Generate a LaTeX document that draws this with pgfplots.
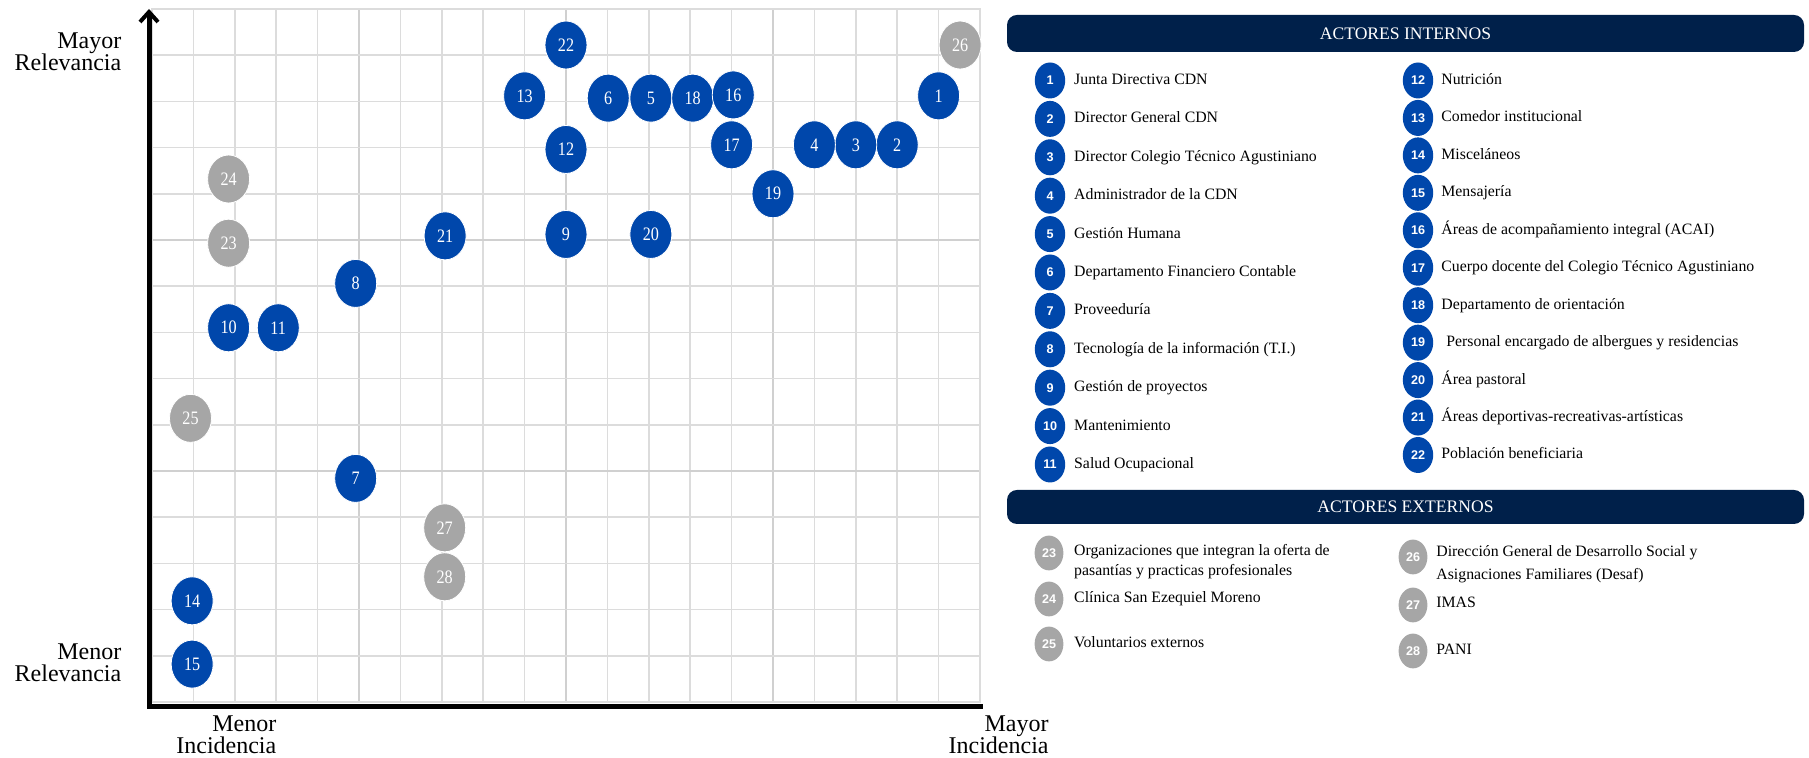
\documentclass[border=0pt]{standalone}
\usepackage{pgfplots}
\pgfplotsset{compat=1.18}
\usepackage{pgfplotstable}
\usetikzlibrary{arrows.meta}
\usepackage{fontspec}
\setmainfont{Liberation Serif}
\newfontfamily\condserif[FakeStretch=0.85]{Liberation Serif}
\newfontfamily\numsans{Liberation Sans}

\definecolor{bub}{RGB}{0,71,171}
\definecolor{bubgray}{RGB}{166,166,166}
\definecolor{navy}{RGB}{0,32,74}
\definecolor{gridminor}{RGB}{220,220,220}
\definecolor{gridmajor}{RGB}{208,208,208}

\pgfdeclareplotmark{bubble}{%
  \pgfpathellipse{\pgfpointorigin}{\pgfqpoint{10.5pt}{0pt}}{\pgfqpoint{0pt}{12pt}}%
  \pgfusepathqfillstroke}

\pgfplotstableread{
x y label
19.00 13.12 1
18.00 12.06 2
17.00 12.06 3
16.00 12.06 4
12.05 13.07 5
11.02 13.07 6
4.92 4.84 7
4.92 9.06 8
10.00 10.12 9
1.85 8.10 10
3.05 8.10 11
10.00 11.96 12
9.00 13.12 13
0.97 2.19 14
0.97 0.82 15
13.06 13.07 18
14.04 13.14 16
14.00 12.06 17
15.00 11.00 19
12.05 10.12 20
7.08 10.09 21
10.00 14.22 22
}\internos

\pgfplotstableread{
x y label
1.85 9.93 23
1.85 11.32 24
0.93 6.14 25
19.52 14.22 26
7.07 3.77 27
7.07 2.71 28
}\externos

\tikzset{
  legtext/.style={anchor=west, inner sep=0pt, text height=5.6pt, text depth=1.6pt,
    font=\fontsize{7.9pt}{9.5pt}\selectfont},
  legnum/.style={text=white, inner sep=0pt,
    font=\numsans\bfseries\fontsize{6.3pt}{7pt}\selectfont},
  axlab/.style={anchor=base east, inner sep=0pt, font=\fontsize{12pt}{14pt}\selectfont},
}

\begin{document}
\begin{tikzpicture}
\useasboundingbox (0,0) rectangle (904.5pt,379pt);
\begin{axis}[
  at={(76pt,28pt)}, anchor=south west,
  width=414pt, height=346.5pt, scale only axis,
  xmin=0, xmax=20, ymin=0, ymax=15,
  xtick={0,5,...,20}, ytick={0,5,...,15},
  minor xtick={0,...,20}, minor ytick={0,...,15},
  xticklabels={}, yticklabels={},
  major tick length=0pt, minor tick length=0pt,
  grid=both,
  major grid style={draw=gridmajor, line width=0.8pt},
  minor grid style={draw=gridminor, line width=0.8pt},
  axis line style={draw=gridminor, line width=0.8pt},
  clip=false,
]
\addplot[only marks, mark=bubble, mark options={fill=bub, draw=white, line width=0.4pt},
  point meta=explicit symbolic, nodes near coords,
  every node near coord/.append style={anchor=center, text=white, inner sep=0pt,
    font=\condserif\fontsize{9.5pt}{10pt}\selectfont}]
  table[x=x, y=y, meta=label]{\internos};
\addplot[only marks, mark=bubble, mark options={fill=bubgray, draw=white, line width=0.4pt},
  point meta=explicit symbolic, nodes near coords,
  every node near coord/.append style={anchor=center, text=white, inner sep=0pt,
    font=\condserif\fontsize{9.5pt}{10pt}\selectfont}]
  table[x=x, y=y, meta=label]{\externos};
\draw[line width=2.5pt, line join=miter, {Straight Barb[length=5pt,width=9pt,line width=2pt]}-]
  ([xshift=-1.5pt]rel axis cs:0,1) -- ([xshift=-1.5pt,yshift=-2.5pt]rel axis cs:0,0)
  -- ([xshift=1.5pt,yshift=-2.5pt]rel axis cs:1,0);
\end{axis}

% axis captions
\node[axlab] at (60.85pt,354.85pt) {Mayor};
\node[axlab] at (60.85pt,343.5pt) {Relevancia};
\node[axlab] at (60.85pt,49pt) {Menor};
\node[axlab] at (60.85pt,38.15pt) {Relevancia};
\node[axlab] at (138.35pt,13.4pt) {Menor};
\node[axlab] at (138.35pt,2.35pt) {Incidencia};
\node[axlab] at (524.5pt,13.4pt) {Mayor};
\node[axlab] at (524.5pt,2.35pt) {Incidencia};

% legend
\begin{scope}[x=0.5pt, y=-0.5pt, shift={(0pt,379pt)}]
  \fill[navy, rounded corners=5pt] (1007,15) rectangle (1804,52);
  \node[text=white, font=\fontsize{8.8pt}{10pt}\selectfont] at (1405.5,33.5) {ACTORES INTERNOS};
  \foreach \n/\t [count=\k from 0] in {
      1/Junta Directiva CDN,
      2/Director General CDN,
      3/Director Colegio Técnico Agustiniano,
      4/Administrador de la CDN,
      5/Gestión Humana,
      6/Departamento Financiero Contable,
      7/Proveeduría,
      8/Tecnología de la información (T.I.),
      9/Gestión de proyectos,
      10/Mantenimiento,
      11/Salud Ocupacional} {
    \pgfmathsetmacro\yy{80.5+38.4*\k}
    \fill[bub] (1050,\yy) ellipse [x radius=7.6pt, y radius=9pt];
    \node[legnum] at (1050,\yy) {\n};
    \node[legtext] at (1073.8,\yy) {\t};
  }
  \foreach \n/\t/\dx [count=\k from 0] in {
      12/Nutrición/0,
      13/Comedor institucional/0,
      14/Misceláneos/0,
      15/Mensajería/0,
      16/Áreas de acompañamiento integral (ACAI)/0,
      17/Cuerpo docente del Colegio Técnico Agustiniano/0,
      18/Departamento de orientación/0,
      19/Personal encargado de albergues y residencias/5,
      20/Área pastoral/0,
      21/Áreas deportivas-recreativas-artísticas/0,
      22/Población beneficiaria/0} {
    \pgfmathsetmacro\yy{80.5+37.45*\k}
    \fill[bub] (1418,\yy) ellipse [x radius=7.6pt, y radius=9pt];
    \node[legnum] at (1418,\yy) {\n};
    \node[legtext] at (1441+\dx,\yy) {\t};
  }

  \fill[navy, rounded corners=5pt] (1007,490) rectangle (1804,524);
  \node[text=white, font=\fontsize{8.8pt}{10pt}\selectfont] at (1405.5,507) {ACTORES EXTERNOS};

  \fill[bubgray] (1049,553) ellipse [x radius=7.2pt, y radius=8.7pt];
  \node[legnum] at (1049,553) {23};
  \node[legtext] at (1073.8,551.7) {Organizaciones que integran la oferta de};
  \node[legtext] at (1073.8,571.7) {pasantías y practicas profesionales};

  \fill[bubgray] (1049,599) ellipse [x radius=7.2pt, y radius=8.7pt];
  \node[legnum] at (1049,599) {24};
  \node[legtext] at (1073.8,599) {Clínica San Ezequiel Moreno};

  \fill[bubgray] (1049,644) ellipse [x radius=7.2pt, y radius=8.7pt];
  \node[legnum] at (1049,644) {25};
  \node[legtext] at (1073.8,643.5) {Voluntarios externos};

  \fill[bubgray] (1413,557) ellipse [x radius=7.2pt, y radius=8.7pt];
  \node[legnum] at (1413,557) {26};
  \node[legtext] at (1436,553) {Dirección General de Desarrollo Social y};
  \node[legtext] at (1436,576) {Asignaciones Familiares (Desaf)};

  \fill[bubgray] (1413,605) ellipse [x radius=7.2pt, y radius=8.7pt];
  \node[legnum] at (1413,605) {27};
  \node[legtext] at (1436,604) {IMAS};

  \fill[bubgray] (1413,651) ellipse [x radius=7.2pt, y radius=8.7pt];
  \node[legnum] at (1413,651) {28};
  \node[legtext] at (1436,651) {PANI};
\end{scope}
\end{tikzpicture}
\end{document}
